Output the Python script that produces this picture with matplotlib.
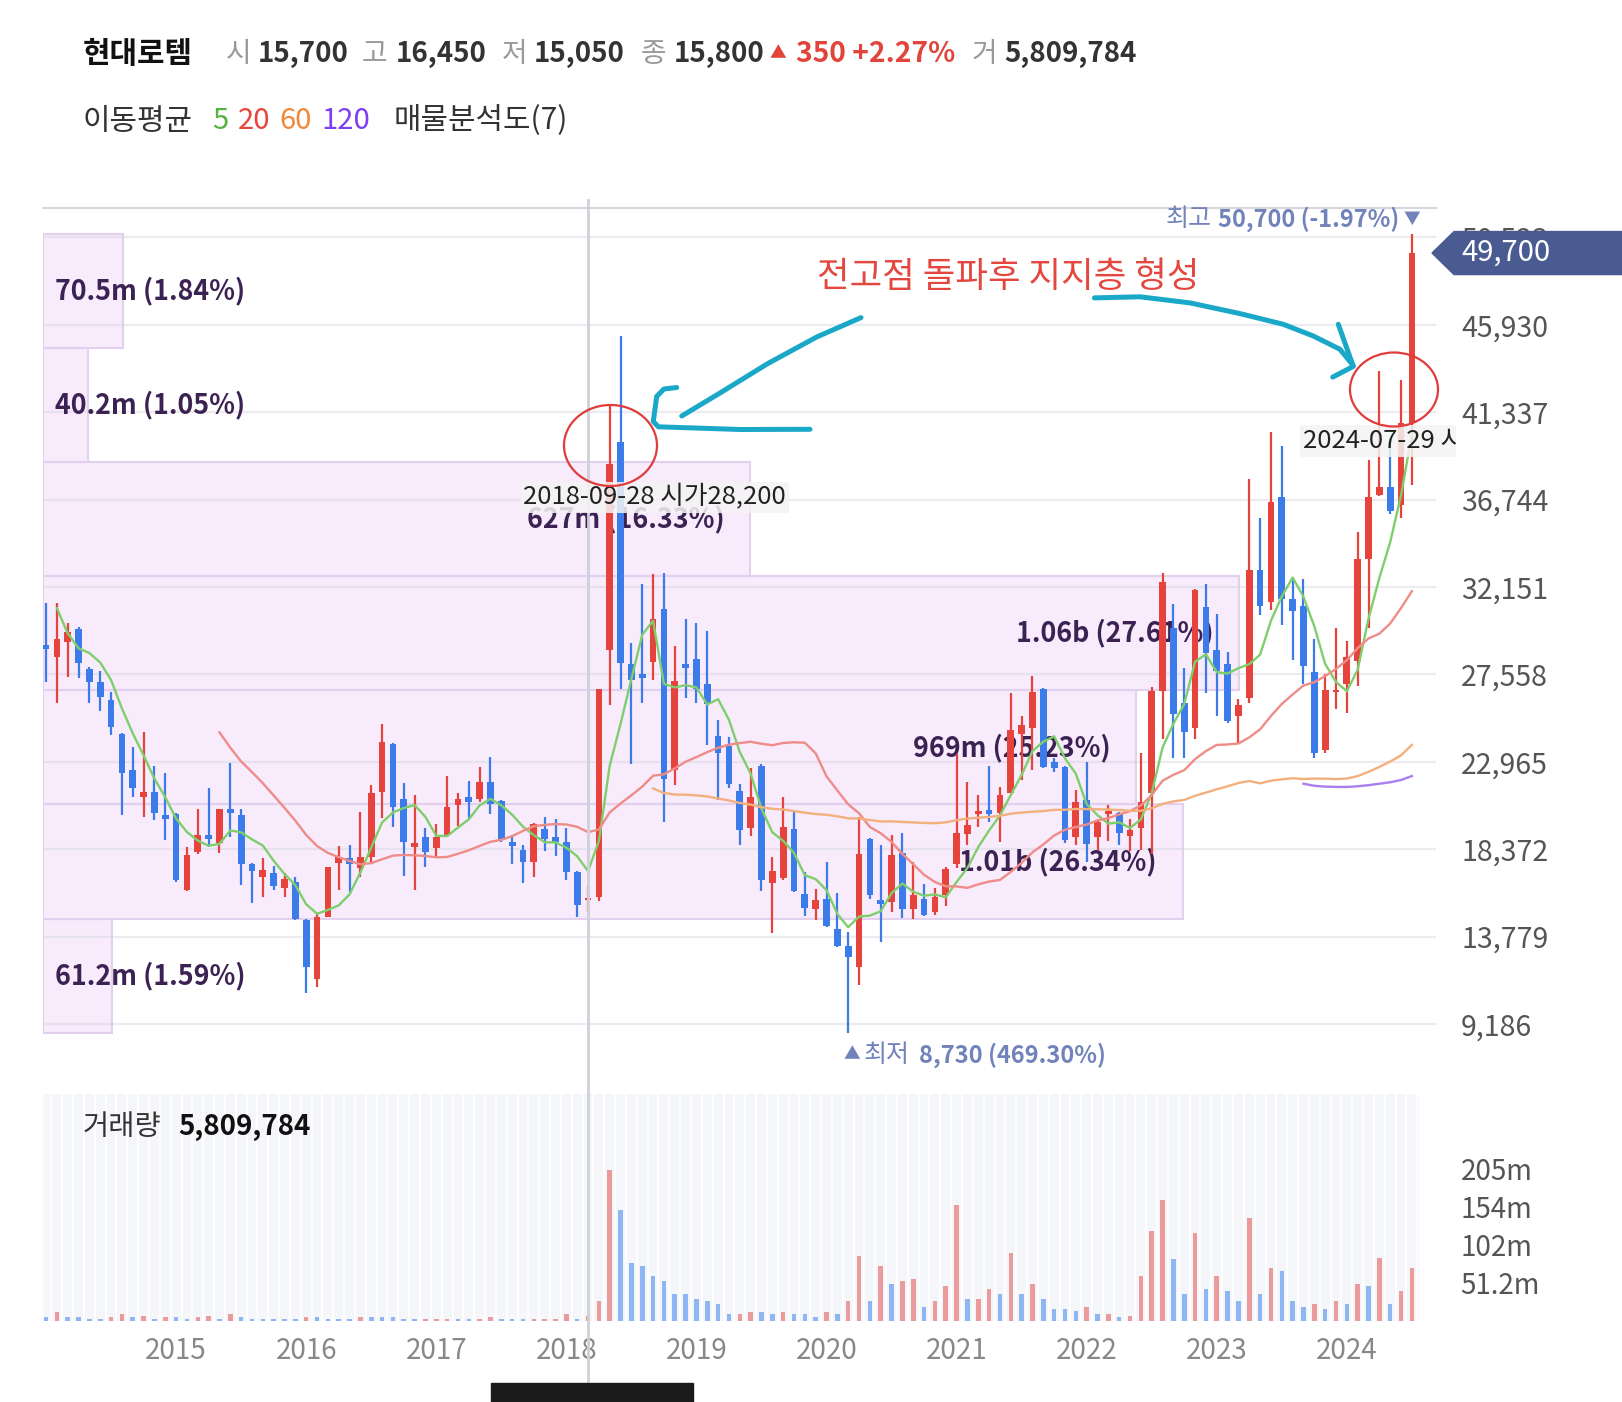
import numpy as np
import pandas as pd
import matplotlib
matplotlib.use("Agg")
import matplotlib.pyplot as plt
import matplotlib.transforms as mtransforms
from matplotlib.patches import Rectangle, Ellipse, Polygon
from matplotlib.lines import Line2D

plt.rcParams['font.family'] = ['Noto Sans CJK KR', 'DejaVu Sans']

# ---------------- data (monthly candles, Jan 2014 - Jul 2024) ----------------
pre_close = [36400, 32100, 28400]   # Oct-Dec 2013, only used to warm up the averages

open_ = [29100, 28490, 29280, 29930, 27820, 27170, 26210, 24420, 22530, 21130,
         21390, 20170, 20200, 16230, 18240, 19110, 18680, 20460, 20170, 17570,
         16930, 17140, 16310, 16660, 14650, 11530, 14820, 17630, 17890, 17360,
         17980, 21390, 23900, 20990, 18500, 19030, 18420, 19120, 20690, 21130,
         20990, 21920, 20920, 18770, 18330, 17720, 19410, 19030, 18770, 17190,
         15700, 15880, 28830, 39790, 28110, 27580, 28200, 31000, 22520, 28110,
         28350, 27030, 24310, 23780, 21420, 19490, 22770, 16600, 16840, 19440,
         16020, 15230, 15780, 14190, 13300, 12170, 18910, 15700, 15610, 18190,
         15210, 15740, 15090, 15960, 17590, 19170, 20220, 20430, 20260, 21340,
         24430, 24720, 26770, 22970, 22710, 19030, 20960, 19030, 20220, 20260,
         19060, 19470, 21310, 26690, 29980, 26030, 24720, 31100, 28850, 28100,
         25380, 26320, 33070, 31380, 36880, 31510, 31140, 27690, 23560, 26630,
         27070, 28250, 33630, 37010, 37390, 36450, 40770]
high = [31330, 31290, 30280, 30070, 27930, 27750, 26650, 24490, 23760, 24550,
        22740, 22360, 20250, 18500, 20460, 21570, 20460, 22920, 20500, 17660,
        17890, 17490, 17140, 16930, 14680, 15030, 17450, 18540, 18590, 20340,
        21740, 24950, 23970, 21830, 21220, 19470, 19700, 22220, 21310, 21970,
        22670, 23200, 20960, 19120, 18590, 19770, 20050, 19940, 19470, 17240,
        16450, 26790, 41720, 45330, 29190, 32330, 32810, 32880, 29070, 30470,
        30280, 29850, 25170, 24260, 21800, 22620, 22860, 17950, 21130, 20360,
        17150, 16260, 17710, 16070, 14030, 20040, 18960, 18590, 19120, 19240,
        17720, 16540, 16310, 17450, 23370, 21920, 21220, 22740, 21660, 26560,
        25370, 27470, 26830, 23150, 22740, 21480, 22970, 19940, 20690, 20340,
        19940, 23410, 26900, 32880, 31250, 27910, 32040, 32320, 30730, 28750,
        26260, 37820, 35760, 40300, 39550, 32600, 32570, 29410, 27570, 30010,
        29320, 35040, 38830, 43490, 39550, 43020, 50700]
low = [27170, 26040, 27440, 27350, 26070, 25650, 24370, 20170, 21130, 20080,
       19900, 18850, 16660, 16190, 18120, 18500, 18150, 19030, 16490, 15520,
       15840, 16230, 15840, 14650, 10830, 11150, 14790, 16230, 16140, 16930,
       17630, 19990, 19550, 16960, 16230, 17420, 17940, 19030, 19590, 19990,
       20870, 20220, 18770, 17590, 16610, 16930, 18290, 18010, 16750, 14820,
       15050, 15640, 25940, 26790, 22860, 26060, 27270, 19800, 21730, 26310,
       26060, 23830, 20940, 21610, 18600, 19080, 16190, 13950, 16750, 16120,
       14870, 14630, 14270, 13230, 8730, 11250, 15780, 13510, 15090, 14740,
       14680, 14860, 14910, 15390, 17360, 18590, 19550, 19820, 18770, 21310,
       22010, 22530, 22620, 22450, 18710, 18590, 17720, 18330, 18820, 18590,
       18290, 18330, 18100, 24160, 23180, 23180, 24160, 26600, 25380, 25000,
       23970, 26030, 30690, 30950, 30160, 28290, 27070, 23180, 23440, 25750,
       25510, 26970, 29980, 36920, 35980, 35790, 37520]
close = [28900, 29400, 29800, 28140, 27170, 26390, 24810, 22360, 21570, 21390,
         20250, 19940, 16750, 18060, 19110, 18890, 20460, 20250, 17590, 17240,
         17280, 16440, 16790, 14680, 12190, 14790, 17450, 17980, 17590, 17940,
         21340, 24020, 20610, 18770, 18710, 18240, 19030, 20570, 20990, 20870,
         21920, 20750, 18850, 18540, 17720, 19700, 18890, 18770, 17190, 15450,
         15800, 26790, 38590, 28160, 27270, 27390, 30470, 22040, 27200, 27870,
         26790, 25990, 23420, 21800, 19390, 21130, 16750, 17230, 19560, 16190,
         15300, 15710, 14340, 13300, 12700, 18120, 15950, 15490, 18070, 15210,
         15960, 14910, 15840, 17310, 19240, 19640, 20400, 20220, 21220, 24640,
         24900, 26650, 22710, 22620, 18850, 20870, 18640, 19820, 20400, 19200,
         19380, 20870, 26700, 32420, 25470, 24530, 32000, 28660, 27720, 25100,
         25940, 33070, 31140, 36640, 31510, 30880, 28000, 23410, 26750, 26750,
         28470, 33630, 36880, 37390, 36170, 40770, 49700]
# volume, millions of shares
volume = [5.5, 12.1, 5.5, 5.0, 2.5, 2.3, 5.5, 9.1, 5.5, 5.8,
          2.5, 5.5, 5.3, 2.5, 5.5, 5.7, 2.5, 9.1, 5.5, 2.5,
          2.4, 2.3, 2.2, 2.1, 5.5, 5.3, 2.5, 2.4, 2.3, 5.5,
          5.4, 5.3, 5.2, 2.5, 2.4, 2.5, 2.6, 2.7, 2.5, 2.4,
          2.5, 5.5, 2.5, 2.4, 2.3, 2.5, 2.6, 2.7, 9.1, 2.5,
          5.809784, 26.2, 203.8, 148.7, 77.4, 74.2, 60.6, 53.3, 36.4, 36.0,
          29.6, 26.0, 22.8, 9.1, 9.5, 12.1, 12.0, 9.1, 12.1, 9.1,
          9.0, 5.5, 12.1, 9.1, 25.9, 87.4, 25.9, 73.7, 49.9, 53.1,
          56.7, 18.9, 25.9, 46.4, 156.1, 29.5, 29.6, 43.2, 36.4, 91.0,
          36.4, 50.0, 29.5, 15.9, 15.8, 12.3, 18.9, 9.1, 9.5, 5.5,
          5.8, 59.6, 121.5, 162.4, 83.8, 36.4, 118.0, 43.2, 60.0, 39.8,
          25.9, 138.8, 36.4, 70.4, 66.8, 25.9, 18.9, 22.0, 15.9, 25.9,
          22.3, 50.0, 46.4, 84.2, 22.3, 39.5, 70.4]

dates = pd.date_range('2014-01-01', periods=len(close), freq='MS')
price_ticks = [9186, 13779, 18372, 22965, 27558, 32151, 36744, 41337, 45930, 50523]
vol_ticks = [51.2, 102.4, 153.6, 204.8]
vol_tick_labels = ['51.2m', '102m', '154m', '205m']
ma_periods = [5, 20, 60, 120]
ma_colors = ['#7fce6c', '#f08c88', '#f4b07c', '#a97ff0']
legend_colors = ['#57b341', '#e8463c', '#f0893c', '#7d3ff0']

# volume profile (매물분석도), bins from low to high price
profile_vol = [61.2, 1010, 969, 1060, 627, 40.2, 70.5]   # millions
profile_pct = [1.59, 26.34, 25.23, 27.61, 16.33, 1.05, 1.84]

cross_idx = 50   # crosshair candle (header values)

# ---------------- figure ----------------
W, H = 1622, 1402
fig = plt.figure(figsize=(W / 100, H / 100), dpi=100)


def fx(px):
    return px / W


def fy(py):
    return 1 - py / H


o = np.array(open_, float)
h = np.array(high, float)
l = np.array(low, float)
c = np.array(close, float)
v = np.array(volume, float)
idx = np.arange(len(c))

px_per_unit = 10.84
x0 = -0.28
up_col, dn_col = '#e5433b', '#3b7bea'

# price panel
ax = fig.add_axes([fx(43), fy(1090), fx(1436) - fx(43), fy(208) - fy(1090)])
ax.set_xlim(x0, x0 + (1436 - 43) / px_per_unit)
ax.set_ylim(5718, 52067)
for s in ['left', 'right', 'bottom']:
    ax.spines[s].set_visible(False)
ax.spines['top'].set_color('#d6d6dc')
ax.spines['top'].set_linewidth(1.5)
ax.set_xticks([])
ax.set_yticks(price_ticks)
ax.set_yticklabels([f'{t:,}' for t in price_ticks])
ax.yaxis.tick_right()
ax.tick_params(axis='y', length=0, pad=18, labelsize=20.5, labelcolor='#555555')
ax.set_axisbelow(False)
ax.grid(axis='y', color='#d4d4de', alpha=0.45, lw=1.6)

# volume profile boxes
edges = np.linspace(l.min(), h.max(), len(profile_vol) + 1)
max_w = 1196 / px_per_unit
pv = np.array(profile_vol)
for k in range(len(pv)):
    wbox = pv[k] / pv.max() * max_w
    ax.add_patch(Rectangle((x0, edges[k]), wbox, edges[k + 1] - edges[k],
                           facecolor='#f7ebfc', edgecolor='#e2d0ee', lw=1.5, zorder=0.3))
    val = f'{pv[k]:g}m' if pv[k] < 1000 else f'{pv[k] / 1000:.2f}b'
    lab = f'{val} ({profile_pct[k]:.2f}%)'
    ymid = (edges[k] + edges[k + 1]) / 2
    if wbox > 30:
        ax.text(x0 + wbox - 26 / px_per_unit, ymid, lab, ha='right', va='center',
                fontsize=19.3, fontweight='bold', color='#3c2253', zorder=2.6)
    else:
        ax.text(x0 + 12 / px_per_unit, ymid, lab, ha='left', va='center',
                fontsize=19.3, fontweight='bold', color='#3c2253', zorder=2.6)

# candles
cols = np.where(c >= o, up_col, dn_col)
ax.vlines(idx, l, h, colors=cols, lw=1.6, zorder=3)
ax.bar(idx, np.maximum(np.abs(c - o), 90), bottom=np.minimum(o, c), width=0.62,
       color=cols, zorder=3.5)

# moving averages
all_close = pd.Series(pre_close + close, dtype=float)
for n, col in zip(ma_periods, ma_colors):
    ma = all_close.rolling(n).mean().to_numpy()[len(pre_close):]
    ax.plot(idx, ma, color=col, lw=1.7, zorder=4)

# volume panel
axv = fig.add_axes([fx(43), fy(1320.6), fx(1419) - fx(43), fy(1094) - fy(1320.6)])
axv.set_xlim(x0, x0 + (1419 - 43) / px_per_unit)
axv.set_ylim(0, 306)
axv.set_facecolor('#f5f6fa')
for s in axv.spines.values():
    s.set_visible(False)
axv.vlines(idx + 0.5, 0, 306, color='white', lw=1.3, zorder=0.5)
vcols = ['#8db6f2'] + ['#eb9b9b' if v[i] > v[i - 1] else '#8db6f2' for i in range(1, len(v))]
axv.bar(idx, v, width=0.42, color=vcols, zorder=2)
axv.set_yticks(vol_ticks)
axv.set_yticklabels(vol_tick_labels)
axv.yaxis.tick_right()
axv.tick_params(axis='y', length=0, pad=30, labelsize=20, labelcolor='#555555')
year_pos = [i for i, d in enumerate(dates) if d.month == 1 and d.year >= 2015]
axv.set_xticks(year_pos)
axv.set_xticklabels([str(dates[i].year) for i in year_pos])
axv.tick_params(axis='x', length=0, pad=11, labelsize=20, labelcolor='#888888')

# crosshair
blend_x = mtransforms.blended_transform_factory(ax.transData, fig.transFigure)
fig.add_artist(Line2D([cross_idx, cross_idx], [fy(200), fy(1381)], transform=blend_x,
                      color='#cdd1d9', lw=2, zorder=6))
fig.add_artist(Rectangle((fx(491), 0), fx(693) - fx(491), fy(1383), color='#1b1b1b', zorder=7))

# ---------------- header ----------------
hy = fy(54)
hdr = [
    (82.8, '현대로템', 'bold', '#111111', 21.5),
    (225.5, '시', 'normal', '#999999', 20),
    (257.6, f'{open_[cross_idx]:,}', 'bold', '#333333', 20),
    (362, '고', 'normal', '#999999', 20),
    (396, f'{high[cross_idx]:,}', 'bold', '#333333', 20),
    (501.7, '저', 'normal', '#999999', 20),
    (533.8, f'{low[cross_idx]:,}', 'bold', '#333333', 20),
    (640.3, '종', 'normal', '#999999', 20),
    (673.4, f'{close[cross_idx]:,}', 'bold', '#333333', 20),
]
for x, s, wgt, col, fs in hdr:
    fig.text(fx(x), hy, s, fontsize=fs, fontweight=wgt, color=col, va='center', ha='left')
chg = close[cross_idx] - close[cross_idx - 1]
pct = chg / close[cross_idx - 1] * 100
fig.text(fx(770), hy, '▲', fontsize=12, color='#e0443a', va='center', ha='left')
fig.text(fx(796.5), hy, f'{chg:,} +{pct:.2f}%', fontsize=20.3, fontweight='bold',
         color='#e0443a', va='center', ha='left')
fig.text(fx(971.3), hy, '거', fontsize=20, color='#999999', va='center', ha='left')
fig.text(fx(1004.4), hy, f'{int(round(volume[cross_idx] * 1e6)):,}', fontsize=20,
         fontweight='bold', color='#333333', va='center', ha='left')

ly = fy(121)
fig.text(fx(82.8), ly, '이동평균', fontsize=21.5, color='#333333', va='center')
for x, n, col in zip([212, 238, 279.3, 321.7], ma_periods, legend_colors):
    fig.text(fx(x), ly, str(n), fontsize=21, color=col, va='center')
fig.text(fx(394), ly, f'매물분석도({len(profile_vol)})', fontsize=21.5, color='#333333', va='center')

fig.text(fx(82.8), fy(1127), '거래량', fontsize=20.5, color='#333333', va='center')
fig.text(fx(178), fy(1127), f'{int(round(volume[cross_idx] * 1e6)):,}', fontsize=20,
         fontweight='bold', color='#111111', va='center')

# ---------------- price labels ----------------
hi, lo = h.max(), l.min()
lab_col = '#7283bb'
fig.text(fx(1212), fy(219), '최고', fontsize=18, color=lab_col, va='center', ha='right')
fig.text(fx(1399), fy(219), f'{int(hi):,} ({(c[-1] - hi) / hi * 100:.2f}%)', fontsize=17,
         fontweight='bold', color=lab_col, va='center', ha='right')
fig.text(fx(1420), fy(219), '▼', fontsize=12, color=lab_col, va='center', ha='right')
fig.text(fx(843), fy(1055), '▲', fontsize=12, color=lab_col, va='center')
fig.text(fx(864), fy(1055), '최저', fontsize=18, color=lab_col, va='center')
fig.text(fx(918.5), fy(1055), f'{int(lo):,} ({(c[-1] - lo) / lo * 100:.2f}%)', fontsize=17,
         fontweight='bold', color=lab_col, va='center')

# last price tag
blend_y = mtransforms.blended_transform_factory(fig.transFigure, ax.transData)
half = 21.5 * (52067 - 5718) / (1090 - 208)
fig.add_artist(Polygon([[fx(1432), c[-1]], [fx(1454), c[-1] + half], [1, c[-1] + half],
                        [1, c[-1] - half], [fx(1454), c[-1] - half]], closed=True,
                       transform=blend_y, color='#4a5b91', zorder=10))
fig.text(fx(1461), c[-1], f'{int(c[-1]):,}', transform=blend_y, fontsize=21,
         color='white', va='center', ha='left', zorder=11)

# date labels
fig.text(fx(523.4), fy(497.6), '2018-09-28 시가28,200', fontsize=18.5, color='#222222',
         va='center', ha='left', zorder=8,
         bbox=dict(boxstyle='square,pad=0.1', facecolor='#f4f4f4', edgecolor='none', alpha=0.85))
t = fig.text(fx(1303), fy(441), '2024-07-29 시가37,010', fontsize=18.5, color='#222222',
             va='center', ha='left', zorder=8,
             bbox=dict(boxstyle='square,pad=0.1', facecolor='#f4f4f4', edgecolor='none', alpha=0.85))
t.set_clip_on(True)
t.set_clip_box(mtransforms.TransformedBbox(mtransforms.Bbox.from_extents(fx(1250), 0, fx(1456), 1),
                                           fig.transFigure))

# ---------------- hand-drawn notes ----------------
fig.text(fx(817), fy(277), '전고점 돌파후 지지층 형성', fontsize=25.5, color='#e4473f',
         va='center', ha='left', zorder=9)
for (cx, cy, ew, eh) in [(610.5, 445.5, 93, 81), (1394, 389.5, 88, 74)]:
    fig.add_artist(Ellipse((fx(cx), fy(cy)), fx(ew), eh / H, fill=False,
                           edgecolor='#e03c3c', lw=1.6, zorder=9))

pen = dict(color='#1aa8c8', lw=3.6, solid_capstyle='round', solid_joinstyle='round', zorder=9)
strokes = [
    [(861, 317.6), (835, 329), (816.7, 337), (767, 364), (720, 393), (681.7, 416)],
    [(676.7, 387.5), (664, 389), (656.7, 396.4), (653.3, 421.4), (658.3, 426.8), (740, 429.5), (810, 429.3)],
    [(1094.4, 297.9), (1140, 296.8), (1190, 302.9), (1240, 313.6), (1283.3, 324.3),
     (1313.3, 336), (1340, 349.3), (1353.3, 365.7)],
    [(1338.3, 324.3), (1353.3, 366.4), (1332.7, 377.1)],
]
for s in strokes:
    xs, ys = zip(*s)
    fig.add_artist(Line2D([fx(x) for x in xs], [fy(y) for y in ys], **pen))

fig.savefig('out.png', dpi=100)
